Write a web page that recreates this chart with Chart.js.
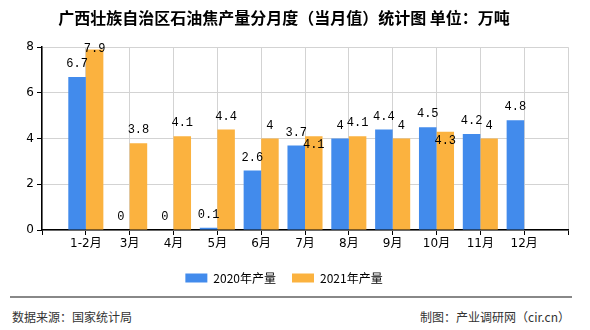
<!DOCTYPE html>
<html>
<head>
<meta charset="utf-8">
<script src="https://cdn.jsdelivr.net/npm/chart.js@4"></script>
<style>
  body { margin: 0; background: #fff; }
  #wrap { position: relative; width: 590px; height: 330px; }
  #chartBox { position: absolute; left: 0; top: 0; width: 590px; height: 294px; }
  .foot { position: absolute; top: 308px; font: 12px "Noto Sans CJK SC", sans-serif; color: #333; }
  #rule { position: absolute; left: 10px; top: 296px; width: 562px; height: 0; border-top: 2px solid #888; }
</style>
</head>
<body>
<div id="wrap">
  <div id="chartBox"><canvas id="prodChart"></canvas></div>
  <div id="rule"></div>
  <div class="foot" style="left:12px">数据来源：国家统计局</div>
  <div class="foot" style="right:20px">制图：产业调研网（cir.cn）</div>
</div>
<script>
// blank first/last slots keep the axis padding seen in the picture
const months = ['', '1-2月', '3月', '4月', '5月', '6月', '7月', '8月', '9月', '10月', '11月', '12月', ''];
const output2020 = [null, 6.7, 0, 0, 0.1, 2.6, 3.7, 4, 4.4, 4.5, 4.2, 4.8, null];
const output2021 = [null, 7.9, 3.8, 4.1, 4.4, 4, 4.1, 4.1, 4, 4.3, 4, null, null];
const yTicks = [0, 2, 4, 6, 8];

// value labels above each bar, pushed inside the bar if they hit another label
const barLabels = {
  id: 'barLabels',
  afterDatasetsDraw(chart) {
    const ctx = chart.ctx;
    const area = chart.chartArea;
    const placed = [];
    ctx.save();
    ctx.font = '12px "Liberation Mono", monospace';
    ctx.fillStyle = '#000';
    ctx.textAlign = 'center';
    ctx.textBaseline = 'middle';
    chart.data.datasets.forEach((ds, di) => {
      chart.getDatasetMeta(di).data.forEach((bar, i) => {
        const v = ds.data[i];
        if (v === null) return;
        const txt = String(v);
        const w = ctx.measureText(txt).width;
        let y = Math.max(bar.y - 13, area.top + 2);
        const box = (yy) => ({ l: bar.x - w / 2, r: bar.x + w / 2, t: yy - 6, b: yy + 6 });
        let b = box(y);
        const hit = placed.some(p => p.l < b.r && b.l < p.r && p.t < b.b && b.t < p.b);
        if (hit) { y = bar.y + 9; b = box(y); }
        placed.push(b);
        ctx.fillText(txt, bar.x, y);
      });
    });
    ctx.restore();
  }
};

document.addEventListener('DOMContentLoaded', function() {
  const ctx = document.getElementById('prodChart').getContext('2d');
  new Chart(ctx, {
    type: 'bar',
    data: {
      labels: months,
      datasets: [
        { label: '2020年产量', data: output2020, backgroundColor: '#428BEC' },
        { label: '2021年产量', data: output2021, backgroundColor: '#FBB23F' }
      ]
    },
    options: {
      responsive: true,
      maintainAspectRatio: false,
      animation: false,
      layout: { padding: { left: 0, right: 22, top: 0, bottom: 0 } },
      datasets: { bar: { categoryPercentage: 0.8, barPercentage: 1 } },
      scales: {
        x: {
          offset: false,
          afterFit: (s) => { s.height = 26; },
          grid: { offset: false, color: '#d3d3d3', tickColor: '#000', tickLength: 5 },
          border: { color: '#000', width: 1.5 },
          ticks: { color: '#000', padding: 2, autoSkip: false, maxRotation: 0,
                   font: { size: 12, family: '"DejaVu Sans", "Noto Sans CJK SC", sans-serif' } }
        },
        y: {
          min: 0, max: 8,
          afterFit: (s) => { s.width = 42; },
          afterBuildTicks: (s) => { s.ticks = yTicks.map(v => ({ value: v })); },
          grid: { color: '#d3d3d3', tickColor: '#000', tickLength: 5 },
          border: { color: '#000', width: 1.5 },
          ticks: { color: '#000', padding: 3, font: { size: 12, family: '"DejaVu Sans", sans-serif' } }
        }
      },
      plugins: {
        title: {
          display: true,
          text: '广西壮族自治区石油焦产量分月度（当月值）统计图 单位：万吨',
          color: '#000',
          font: { size: 16, weight: 'bold', family: '"Noto Sans CJK SC", sans-serif' },
          padding: { top: 8, bottom: 20 }
        },
        legend: {
          position: 'bottom',
          labels: { boxWidth: 22, boxHeight: 9, color: '#000', padding: 16,
                    font: { size: 12, family: '"Noto Sans CJK SC", sans-serif' } }
        },
        tooltip: { enabled: false }
      }
    },
    plugins: [barLabels]
  });
});
</script>
</body>
</html>
